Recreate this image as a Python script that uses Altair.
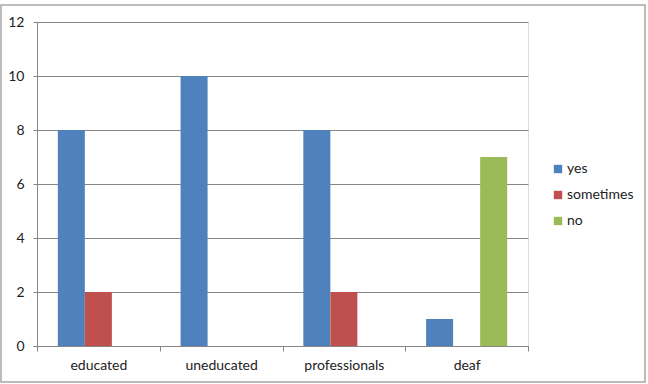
import altair as alt
import pandas as pd

categories = ["educated", "uneducated", "professionals", "deaf"]
series = ["yes", "sometimes", "no"]
yes_vals = [8, 10, 8, 1]
sometimes_vals = [2, 0, 2, 0]
no_vals = [0, 0, 0, 7]
colors = ["#4F81BD", "#C0504D", "#9BBB59"]
y_ticks = [0, 2, 4, 6, 8, 10, 12]

rows = []
for i, c in enumerate(categories):
    for s, vals in zip(series, [yes_vals, sometimes_vals, no_vals]):
        rows.append({"category": c, "series": s, "value": vals[i]})
df = pd.DataFrame(rows)

FONT = "Lato"
W, H = 491, 324

bars = alt.Chart(df).mark_bar(size=27).encode(
    x=alt.X("category:N", sort=categories, title=None,
            scale=alt.Scale(paddingInner=0, paddingOuter=0),
            axis=alt.Axis(labelAngle=0, tickBand="extent", tickSize=5,
                          tickColor="#868686", domainColor="#868686",
                          labelFont=FONT, labelFontSize=14, labelColor="#222222",
                          labelPadding=7, grid=False)),
    xOffset=alt.XOffset("series:N", sort=series,
                        scale=alt.Scale(paddingInner=0, paddingOuter=0.77)),
    y=alt.Y("value:Q", title=None,
            scale=alt.Scale(domain=[0, 12], nice=False),
            axis=alt.Axis(values=y_ticks, tickSize=4, tickColor="#868686",
                          domainColor="#868686", gridColor="#868686",
                          labelFont=FONT, labelFontSize=14, labelColor="#222222",
                          labelPadding=9)),
    color=alt.Color("series:N", sort=series,
                    scale=alt.Scale(domain=series, range=colors),
                    legend=alt.Legend(title=None, orient="none", legendX=514, legendY=140,
                                      symbolType="square", symbolSize=70,
                                      symbolStrokeWidth=0, rowPadding=12,
                                      labelFont=FONT, labelFontSize=14,
                                      labelColor="#222222", labelOffset=2)),
)

frame = alt.Chart(pd.DataFrame({"a": [0]})).mark_rect(
    fill=None, stroke="#A6A6A6", strokeWidth=1.5
).encode(
    x=alt.value(-36), x2=alt.value(608), y=alt.value(-17), y2=alt.value(360)
)

chart = alt.layer(frame, bars).properties(
    width=W, height=H,
    padding={"left": 37, "top": 22, "right": 120, "bottom": 38},
    autosize=alt.AutoSizeParams(type="none"),
).configure_view(stroke=None).configure(background="white")

chart.save("out.html", embed_options={"renderer": "svg", "actions": False})
